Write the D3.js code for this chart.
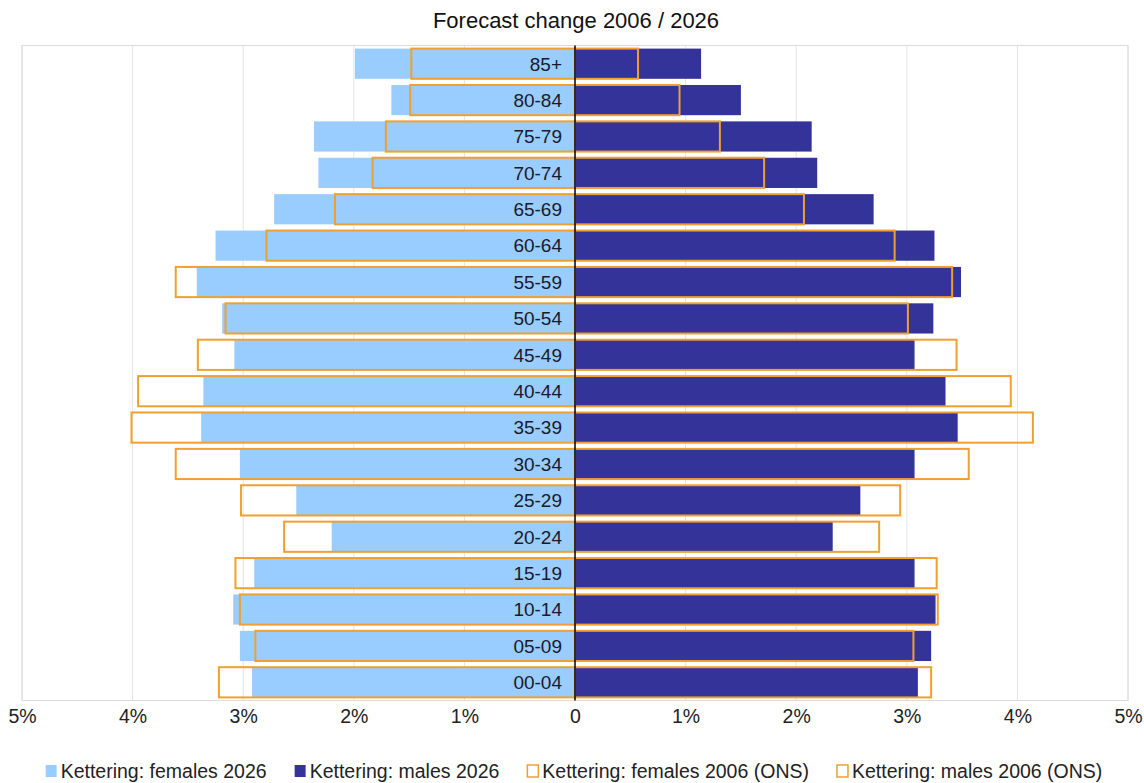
<!DOCTYPE html>
<html>
<head>
<meta charset="utf-8">
<script src="https://cdn.jsdelivr.net/npm/d3@7"></script>
<style>
  html, body { margin: 0; padding: 0; background: #fff; }
  svg { display: block; font-family: "Liberation Sans", Arial, sans-serif; }
</style>
</head>
<body>
<svg id="chart" width="1144" height="783"></svg>
<script>
// ---- data (percent of population) ----
const ageGroups = ["85+","80-84","75-79","70-74","65-69","60-64","55-59","50-54","45-49","40-44","35-39","30-34","25-29","20-24","15-19","10-14","05-09","00-04"];
const females2026 = [1.99,1.66,2.36,2.32,2.72,3.25,3.42,3.19,3.08,3.36,3.38,3.03,2.52,2.20,2.90,3.09,3.03,2.92];
const males2026   = [1.14,1.50,2.14,2.19,2.70,3.25,3.49,3.24,3.07,3.35,3.46,3.07,2.58,2.33,3.07,3.26,3.22,3.10];
const females2006 = [1.48,1.49,1.71,1.83,2.17,2.79,3.61,3.16,3.41,3.95,4.01,3.61,3.02,2.63,3.07,3.03,2.89,3.22];
const males2006   = [0.57,0.945,1.31,1.71,2.07,2.89,3.41,3.01,3.45,3.94,4.14,3.56,2.94,2.75,3.27,3.28,3.06,3.22];
const tickValues = [-5,-4,-3,-2,-1,0,1,2,3,4,5];
const tickLabels = ["5%","4%","3%","2%","1%","0","1%","2%","3%","4%","5%"];
const seriesNames = ["Kettering: females 2026","Kettering: males 2026","Kettering: females 2006 (ONS)","Kettering: males 2006 (ONS)"];
const chartTitle = "Forecast change 2006 / 2026";

(function () {
const COL_F = "#99CCFF", COL_M = "#333399", COL_O = "#EFA030";

const svg = d3.select("#chart");
const pL = 22, pR = 1128, pT = 45.5, pB = 700.5;

const x = d3.scaleLinear().domain([-5, 5]).range([pL, pR]);
const y = d3.scaleBand().domain(ageGroups).range([pT, pB]).paddingInner(0.17).paddingOuter(0.085);

// title
svg.append("text").attr("x", 576).attr("y", 28).attr("text-anchor", "middle")
  .attr("font-size", 22).attr("fill", "#111").text(chartTitle);

// gridlines
svg.append("g").selectAll("line").data(tickValues.filter(d => d !== 0)).join("line")
  .attr("x1", d => x(d)).attr("x2", d => x(d)).attr("y1", pT).attr("y2", pB)
  .attr("stroke", "#e4e4e4").attr("stroke-width", 1);
// frame
svg.append("rect").attr("x", pL).attr("y", pT).attr("width", pR - pL).attr("height", pB - pT)
  .attr("fill", "none").attr("stroke", "#dcdcdc").attr("stroke-width", 1);

const bh = y.bandwidth();
// female fill
svg.append("g").selectAll("rect").data(ageGroups).join("rect")
  .attr("x", (d, i) => x(-females2026[i])).attr("y", d => y(d))
  .attr("width", (d, i) => x(0) - x(-females2026[i])).attr("height", bh)
  .attr("fill", COL_F);
// male fill
svg.append("g").selectAll("rect").data(ageGroups).join("rect")
  .attr("x", x(0)).attr("y", d => y(d))
  .attr("width", (d, i) => x(males2026[i]) - x(0)).attr("height", bh)
  .attr("fill", COL_M);
// female 2006 outline
svg.append("g").selectAll("rect").data(ageGroups).join("rect")
  .attr("x", (d, i) => x(-females2006[i])).attr("y", d => y(d))
  .attr("width", (d, i) => x(0) - x(-females2006[i])).attr("height", bh)
  .attr("fill", "none").attr("stroke", COL_O).attr("stroke-width", 2);
// male 2006 outline
svg.append("g").selectAll("rect").data(ageGroups).join("rect")
  .attr("x", x(0)).attr("y", d => y(d))
  .attr("width", (d, i) => x(males2006[i]) - x(0)).attr("height", bh)
  .attr("fill", "none").attr("stroke", COL_O).attr("stroke-width", 2);

// category labels
svg.append("g").selectAll("text").data(ageGroups).join("text")
  .attr("x", x(0) - 13).attr("y", d => y(d) + bh / 2)
  .attr("dy", "0.36em").attr("text-anchor", "end")
  .attr("font-size", 19).attr("fill", "#1a1a2a").text(d => d);

// centre axis line
svg.append("line").attr("x1", x(0)).attr("x2", x(0)).attr("y1", pT).attr("y2", pB)
  .attr("stroke", "#000").attr("stroke-width", 1.5);

// x axis labels
const axis = d3.axisBottom(x).tickValues(tickValues).tickSize(0).tickPadding(0)
  .tickFormat((d, i) => tickLabels[i]);
const ax = svg.append("g").attr("transform", `translate(0, ${pB + 9})`).call(axis);
ax.select(".domain").remove();
ax.selectAll("text").attr("font-size", 19.5).attr("fill", "#222")
  .attr("font-family", "Liberation Sans, Arial, sans-serif").attr("dy", "0.71em");

// legend
const legend = svg.append("g");
const items = legend.selectAll("g").data(seriesNames).join("g");
items.append("rect").attr("x", 0).attr("y", -6).attr("width", 11).attr("height", 12)
  .attr("fill", (d, i) => i === 0 ? COL_F : i === 1 ? COL_M : "#fff")
  .attr("stroke", (d, i) => i >= 2 ? COL_O : "none").attr("stroke-width", 1.5);
items.append("text").attr("x", 15).attr("y", 0).attr("dy", "0.36em")
  .attr("font-size", 19.5).attr("fill", "#222").text(d => d);
const gap = 28;
const widths = [];
items.each(function () { widths.push(15 + d3.select(this).select("text").node().getComputedTextLength()); });
const total = d3.sum(widths) + gap * (widths.length - 1);
const start = 574 - total / 2;
let cx = 0;
items.attr("transform", (d, i) => {
  const t = `translate(${start + cx}, 771)`;
  cx += widths[i] + gap;
  return t;
});
})();
</script>
</body>
</html>
